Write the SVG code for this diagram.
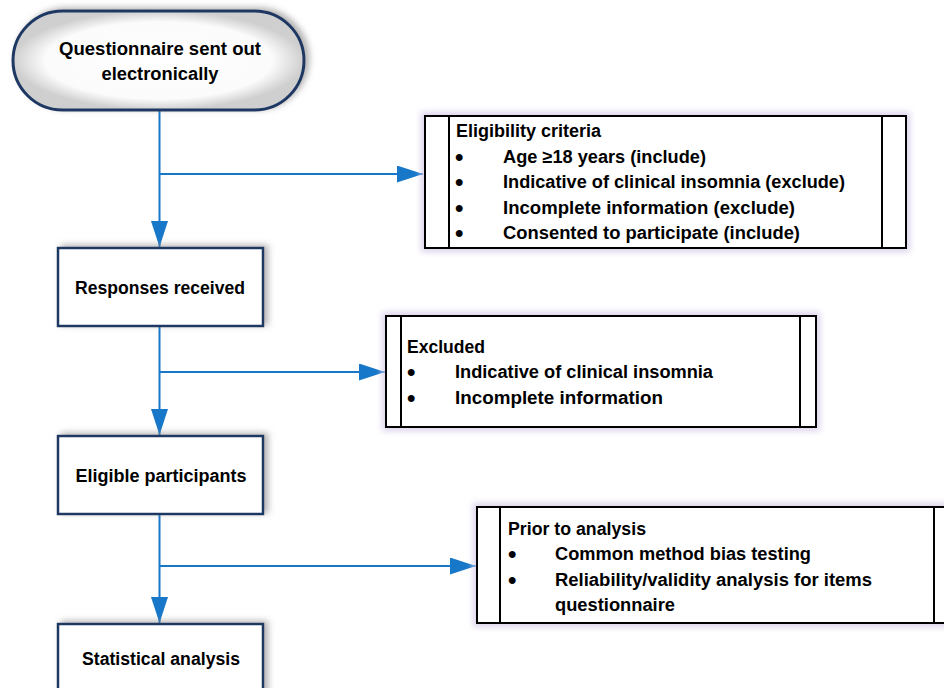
<svg xmlns="http://www.w3.org/2000/svg" width="944" height="688" viewBox="0 0 944 688">
<defs>
<style>
.t{font-family:"Liberation Sans",Arial,sans-serif;font-weight:bold;font-size:18px;fill:#000}
.b{font-family:"Liberation Sans",Arial,sans-serif;font-weight:bold;font-size:24px;fill:#000}
.m{text-anchor:middle}
.proc{fill:#fff;stroke:#1F3864;stroke-width:2.5}
.list{fill:#fff;stroke:#000;stroke-width:2}
.div{stroke:#000;stroke-width:2}
.con{fill:none;stroke:#1777C8;stroke-width:2}
</style>
<radialGradient id="pillfill" cx="50%" cy="50%" r="50%">
<stop offset="0" stop-color="#ffffff"/>
<stop offset="0.78" stop-color="#fbfbfb"/>
<stop offset="1" stop-color="#cfcfcf"/>
</radialGradient>
<filter id="shadow" x="-10%" y="-20%" width="125%" height="140%">
<feGaussianBlur in="SourceAlpha" stdDeviation="3"/>
<feOffset dx="4" dy="-2" result="b"/>
<feFlood flood-color="#808080" flood-opacity="0.6"/>
<feComposite in2="b" operator="in" result="s"/>
<feMerge><feMergeNode in="s"/><feMergeNode in="SourceGraphic"/></feMerge>
</filter>
<filter id="glow" x="-5%" y="-15%" width="110%" height="130%">
<feMorphology in="SourceAlpha" operator="dilate" radius="3"/>
<feGaussianBlur stdDeviation="3" result="b"/>
<feFlood flood-color="#D6CBE8" flood-opacity="0.85"/>
<feComposite in2="b" operator="in" result="s"/>
<feMerge><feMergeNode in="s"/><feMergeNode in="SourceGraphic"/></feMerge>
</filter>
<marker id="arr" markerUnits="userSpaceOnUse" markerWidth="27" markerHeight="18" refX="26" refY="8.5" orient="auto">
<path d="M0,0 L26,8.5 L0,17 z" fill="#1777C8"/>
</marker>
</defs>
<rect width="944" height="688" fill="#fff"/>

<g id="connectors">
<path class="con" d="M159.5,110 V247" marker-end="url(#arr)"/>
<path class="con" d="M159.5,174 H423" marker-end="url(#arr)"/>
<path class="con" d="M159.5,326 V435" marker-end="url(#arr)"/>
<path class="con" d="M159.5,372 H385" marker-end="url(#arr)"/>
<path class="con" d="M159.5,514 V623" marker-end="url(#arr)"/>
<path class="con" d="M159.5,566 H476" marker-end="url(#arr)"/>
</g>

<g id="start">
<rect x="13" y="11" width="291" height="99" rx="49.5" fill="url(#pillfill)" stroke="#1F3864" stroke-width="3" filter="url(#shadow)"/>
<text class="t m" x="160" y="55" textLength="202" lengthAdjust="spacingAndGlyphs">Questionnaire sent out</text>
<text class="t m" x="160" y="80" textLength="117" lengthAdjust="spacingAndGlyphs">electronically</text>
</g>

<g id="responses">
<rect class="proc" x="58" y="248" width="205" height="78" filter="url(#shadow)"/>
<text class="t m" x="160" y="294" textLength="170" lengthAdjust="spacingAndGlyphs">Responses received</text>
</g>

<g id="eligible">
<rect class="proc" x="58" y="436" width="205" height="78" filter="url(#shadow)"/>
<text class="t m" x="161" y="482" textLength="171" lengthAdjust="spacingAndGlyphs">Eligible participants</text>
</g>

<g id="statistical">
<rect class="proc" x="58" y="624" width="205" height="80" filter="url(#shadow)"/>
<text class="t m" x="161" y="665" textLength="158" lengthAdjust="spacingAndGlyphs">Statistical analysis</text>
</g>

<g id="eligibility-criteria">
<rect class="list" x="425" y="116" width="481" height="132" filter="url(#glow)"/>
<line class="div" x1="449" y1="116" x2="449" y2="248"/>
<line class="div" x1="882" y1="116" x2="882" y2="248"/>
<text class="t" x="456" y="137" textLength="145" lengthAdjust="spacingAndGlyphs">Eligibility criteria</text>
<text class="b" x="455" y="165">•</text>
<text class="t" x="503" y="163" textLength="203" lengthAdjust="spacingAndGlyphs">Age ≥18 years (include)</text>
<text class="b" x="455" y="190">•</text>
<text class="t" x="503" y="188" textLength="342" lengthAdjust="spacingAndGlyphs">Indicative of clinical insomnia (exclude)</text>
<text class="b" x="455" y="216">•</text>
<text class="t" x="503" y="214" textLength="292" lengthAdjust="spacingAndGlyphs">Incomplete information (exclude)</text>
<text class="b" x="455" y="241">•</text>
<text class="t" x="503" y="239" textLength="297" lengthAdjust="spacingAndGlyphs">Consented to participate (include)</text>
</g>

<g id="excluded">
<rect class="list" x="386" y="316" width="430" height="111" filter="url(#glow)"/>
<line class="div" x1="401" y1="316" x2="401" y2="427"/>
<line class="div" x1="800" y1="316" x2="800" y2="427"/>
<text class="t" x="407" y="353" textLength="78" lengthAdjust="spacingAndGlyphs">Excluded</text>
<text class="b" x="407" y="380">•</text>
<text class="t" x="455" y="378" textLength="258" lengthAdjust="spacingAndGlyphs">Indicative of clinical insomnia</text>
<text class="b" x="407" y="406">•</text>
<text class="t" x="455" y="404" textLength="208" lengthAdjust="spacingAndGlyphs">Incomplete information</text>
</g>

<g id="prior-to-analysis">
<rect class="list" x="477" y="507" width="480" height="116" filter="url(#glow)"/>
<line class="div" x1="500" y1="507" x2="500" y2="623"/>
<line class="div" x1="934" y1="507" x2="934" y2="623"/>
<text class="t" x="508" y="535" textLength="138" lengthAdjust="spacingAndGlyphs">Prior to analysis</text>
<text class="b" x="508" y="562">•</text>
<text class="t" x="555" y="560" textLength="256" lengthAdjust="spacingAndGlyphs">Common method bias testing</text>
<text class="b" x="508" y="588">•</text>
<text class="t" x="555" y="586" textLength="317" lengthAdjust="spacingAndGlyphs">Reliability/validity analysis for items</text>
<text class="t" x="555" y="611" textLength="120" lengthAdjust="spacingAndGlyphs">questionnaire</text>
</g>
</svg>
